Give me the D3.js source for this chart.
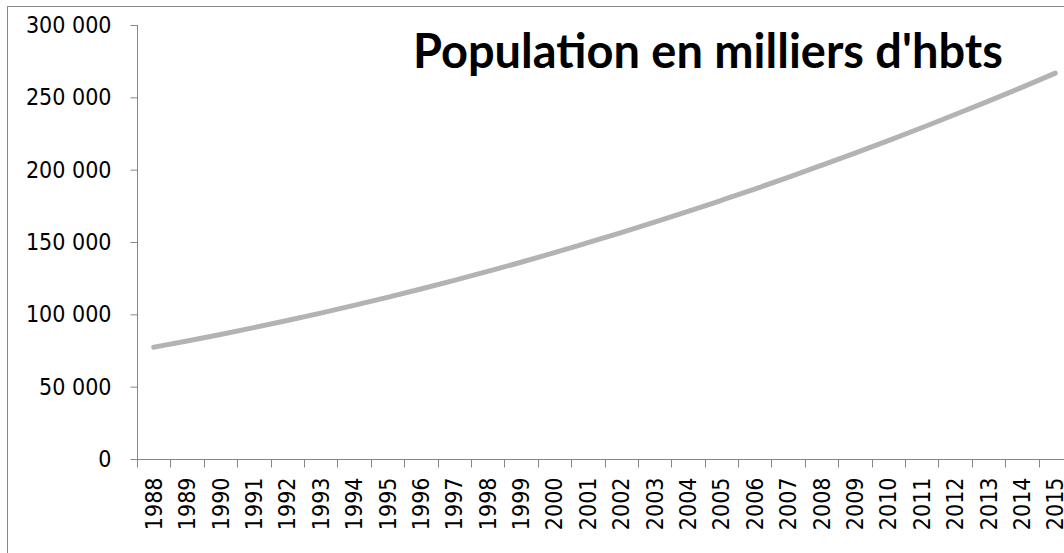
<!DOCTYPE html>
<html lang="fr">
<head>
    <meta charset="UTF-8">
    <title>Population en milliers d'hbts</title>
    <script src="https://d3js.org/d3.v7.min.js"></script>
    <style>
        body { margin: 0; background: #fff; }
        .axis text { font-family: "DejaVu Sans Condensed", "DejaVu Sans", sans-serif; font-stretch: condensed; font-size: 23px; fill: #000; }
        .axis path, .axis line { stroke: #868686; }
        .title { font-family: Lato, "Open Sans", sans-serif; font-weight: bold; fill: #000; }
    </style>
</head>
<body>
    <div id="chart"></div>

    <script>
        // data (thousands of inhabitants)
        const years = [1988, 1989, 1990, 1991, 1992, 1993, 1994, 1995, 1996, 1997,
                       1998, 1999, 2000, 2001, 2002, 2003, 2004, 2005, 2006, 2007,
                       2008, 2009, 2010, 2011, 2012, 2013, 2014, 2015];
        const population = [77300, 81600, 86100, 90800, 95700, 100800, 106200, 111700, 117500, 123500,
                            129700, 136000, 142600, 149500, 156500, 163700, 171100, 178800, 186600, 194700,
                            203000, 211400, 220100, 229000, 238100, 247400, 256900, 266700];
        const yTicks = [0, 50000, 100000, 150000, 200000, 250000, 300000];
        const titleText = "Population en milliers d'hbts";

        const width = 1064, height = 553;
        const plot = { left: 137, top: 25, bottom: 459, right: 1072 };

        const svg = d3.select("#chart").append("svg")
            .attr("width", width)
            .attr("height", height);

        // outer chart frame (runs past the picture on the right and bottom)
        svg.append("rect")
            .attr("x", 7.5).attr("y", 6.5)
            .attr("width", 1100).attr("height", 600)
            .attr("fill", "none")
            .attr("stroke", "#888");

        const x = d3.scaleBand()
            .domain(years)
            .range([plot.left, plot.right])
            .padding(0);

        const y = d3.scaleLinear()
            .domain([0, 300000])
            .range([plot.bottom, plot.top]);

        const fmt = d => d3.format(",")(d).replace(/,/g, " ");

        // y axis
        const yAxis = svg.append("g")
            .attr("class", "axis")
            .attr("transform", `translate(${plot.left + 0.5},0)`)
            .call(d3.axisLeft(y).tickValues(yTicks).tickSize(7).tickPadding(19).tickFormat(fmt));
        yAxis.select(".domain").attr("d", `M0,${plot.top}V${plot.bottom}`);

        // x axis: labels centred on bands, ticks on band edges
        const xAxis = svg.append("g")
            .attr("class", "axis")
            .attr("transform", `translate(0,${plot.bottom + 0.5})`);

        xAxis.append("line")
            .attr("x1", plot.left).attr("x2", plot.right)
            .attr("y1", 0).attr("y2", 0);

        xAxis.selectAll(".xtick")
            .data(years.concat([null]))
            .enter().append("line")
            .attr("class", "xtick")
            .attr("x1", d => Math.round(d === null ? plot.right : x(d)) + 0.5)
            .attr("x2", d => Math.round(d === null ? plot.right : x(d)) + 0.5)
            .attr("y1", 0).attr("y2", 8);

        xAxis.selectAll(".xlabel")
            .data(years)
            .enter().append("text")
            .attr("class", "xlabel")
            .attr("text-anchor", "end")
            .attr("dy", "0.35em")
            .attr("transform", d => `translate(${x(d) + x.bandwidth() / 2},18) rotate(-90)`)
            .text(d => d);

        // population line
        const line = d3.line()
            .x((d, i) => x(years[i]) + x.bandwidth() / 2)
            .y(d => y(d))
            .curve(d3.curveMonotoneX);

        svg.append("path")
            .datum(population)
            .attr("fill", "none")
            .attr("stroke", "#b3b3b3")
            .attr("stroke-width", 5)
            .attr("stroke-linecap", "round")
            .attr("d", line);

        // title, sized to the width it has in the picture
        const title = svg.append("text")
            .attr("class", "title")
            .attr("x", 413)
            .attr("y", 68)
            .style("font-size", "36px")
            .text(titleText);
        const w = title.node().getComputedTextLength();
        title.style("font-size", (36 * 590 / w) + "px");
    </script>
</body>
</html>
